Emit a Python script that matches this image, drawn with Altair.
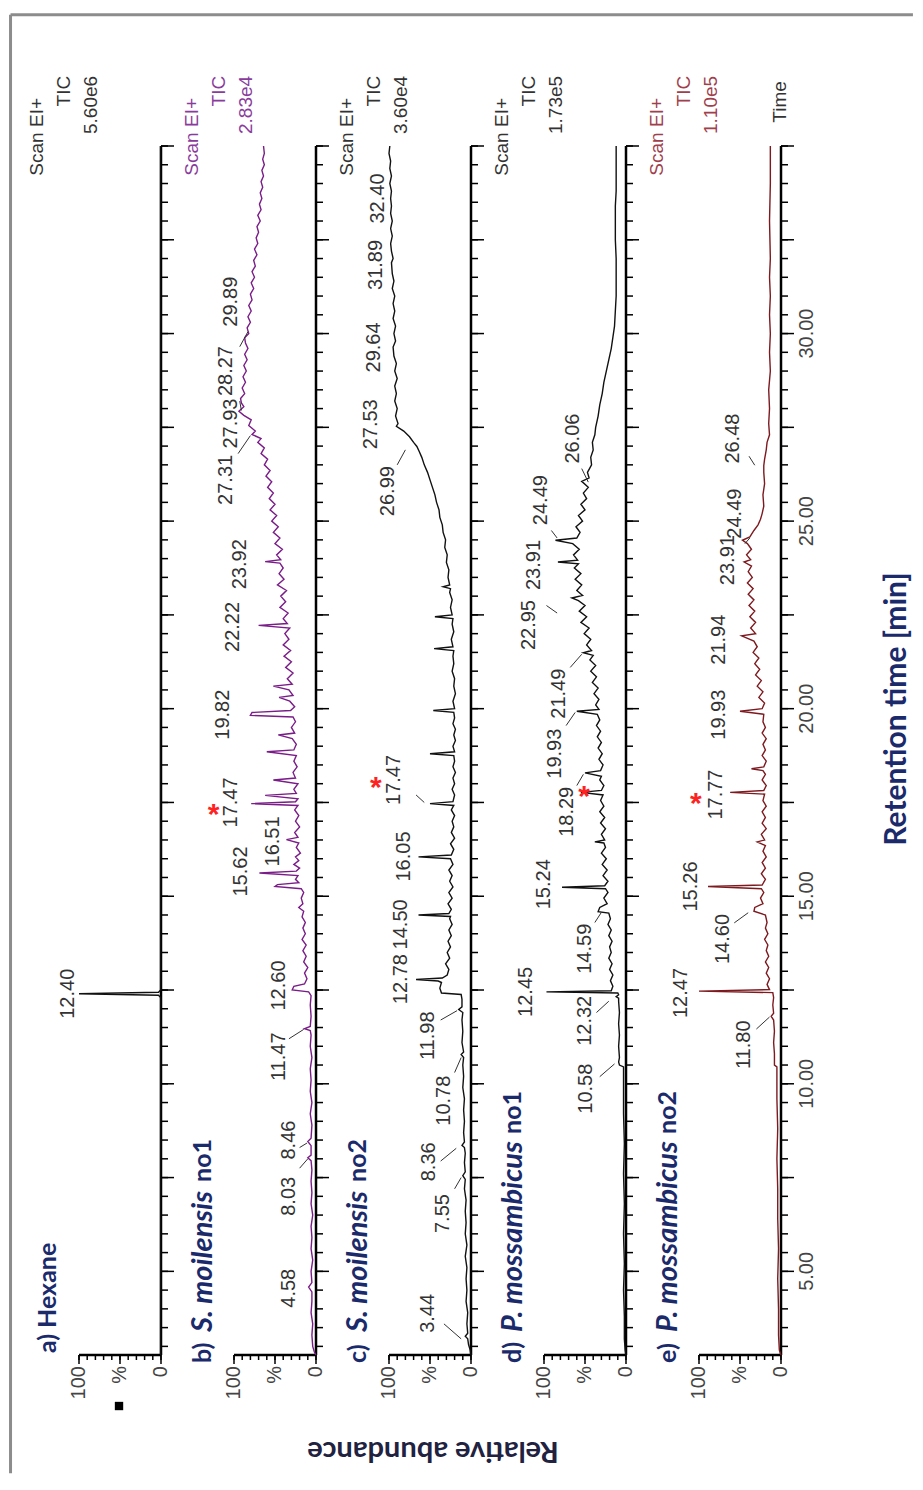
import altair as alt
import pandas as pd

# ---------------- axis ranges / ticks ----------------
T_MIN, T_MAX = 2.77, 35.0
PANEL_W, PANEL_H = 82, 1209
GAP = 73
TIME_TICKS = [v / 2 for v in range(6, 71)]            # minor ticks every 0.5 min
MAJOR_TIME_TICKS = [v / 2 for v in range(10, 71, 5)]  # long ticks every 2.5 min
TIME_LABEL_VALUES = [5, 10, 15, 20, 25, 30]
TIME_LABELS = ["5.00", "10.00", "15.00", "20.00", "25.00", "30.00"]
PCT_TICKS = [0, 10, 20, 30, 40, 50, 60, 70, 80, 90, 100]
MAJOR_PCT_TICKS = [0, 50, 100]
PCT_LABEL_VALUES = [100, 50, 0]
PCT_LABELS = ["100", "%", "0"]

# ---------------- traces (time [min], relative abundance [%]) ----------------
A_TRACE = [(2.77, 0.5), (12.30, 0.5), (12.36, 3), (12.40, 100), (12.44, 3), (12.50, 0.5), (35.0, 0.5)]

B_TRACE = [
    (2.77, 0), (2.85, 2), (3.0, 4), (3.3, 5), (3.6, 4), (3.9, 6), (4.2, 5), (4.45, 5), (4.58, 9), (4.7, 5),
    (5.0, 6), (5.3, 4), (5.6, 6), (5.9, 5), (6.2, 6), (6.5, 4), (6.8, 6), (7.1, 5), (7.4, 6), (7.7, 5),
    (7.95, 6), (8.03, 10), (8.1, 6), (8.35, 6), (8.46, 10), (8.55, 6), (8.9, 5), (9.2, 7), (9.5, 5), (9.8, 7),
    (10.1, 6), (10.4, 7), (10.7, 5), (11.0, 7), (11.3, 6), (11.42, 7), (11.47, 14), (11.53, 7), (11.8, 6),
    (12.1, 7), (12.35, 6), (12.45, 9), (12.5, 29), (12.6, 27), (12.66, 14), (12.8, 11), (12.95, 14), (13.1, 10),
    (13.25, 15), (13.4, 12), (13.55, 16), (13.7, 12), (13.85, 17), (14.0, 13), (14.15, 16), (14.3, 13),
    (14.45, 17), (14.6, 15), (14.7, 21), (14.8, 16), (14.95, 18), (15.1, 15), (15.2, 18), (15.26, 50),
    (15.31, 47), (15.36, 21), (15.45, 25), (15.55, 22), (15.62, 69), (15.67, 24), (15.75, 20), (15.85, 27),
    (15.95, 21), (16.05, 25), (16.15, 19), (16.3, 24), (16.42, 21), (16.51, 36), (16.57, 22), (16.7, 26),
    (16.85, 20), (17.0, 25), (17.15, 21), (17.3, 26), (17.42, 22), (17.47, 79), (17.52, 25), (17.6, 22),
    (17.69, 62), (17.74, 24), (17.85, 27), (18.0, 22), (18.1, 52), (18.15, 25), (18.3, 28), (18.45, 23),
    (18.6, 27), (18.75, 24), (18.85, 60), (18.9, 27), (19.05, 24), (19.2, 29), (19.3, 46), (19.35, 26),
    (19.5, 30), (19.65, 25), (19.78, 28), (19.82, 80), (19.9, 78), (19.95, 31), (20.05, 26), (20.2, 32),
    (20.3, 45), (20.35, 28), (20.5, 33), (20.6, 52), (20.65, 29), (20.8, 35), (20.95, 28), (21.1, 37),
    (21.25, 30), (21.4, 39), (21.55, 31), (21.7, 40), (21.85, 33), (22.0, 38), (22.15, 32), (22.22, 70),
    (22.27, 35), (22.4, 40), (22.55, 34), (22.7, 44), (22.85, 37), (23.0, 43), (23.15, 36), (23.3, 47),
    (23.45, 39), (23.6, 45), (23.75, 40), (23.88, 44), (23.92, 62), (23.97, 43), (24.1, 48), (24.25, 41),
    (24.4, 50), (24.55, 44), (24.7, 52), (24.85, 46), (25.0, 54), (25.15, 48), (25.3, 56), (25.45, 50),
    (25.6, 57), (25.75, 52), (25.9, 59), (26.05, 54), (26.2, 61), (26.35, 56), (26.5, 63), (26.65, 59),
    (26.8, 67), (26.95, 63), (27.1, 71), (27.2, 67), (27.31, 78), (27.4, 74), (27.55, 82), (27.7, 79),
    (27.82, 88), (27.93, 94), (28.05, 88), (28.15, 91), (28.27, 92), (28.4, 87), (28.55, 90), (28.7, 86),
    (28.85, 89), (29.0, 85), (29.15, 88), (29.3, 84), (29.45, 87), (29.6, 83), (29.75, 86), (29.89, 87),
    (30.0, 82), (30.15, 84), (30.3, 80), (30.45, 83), (30.6, 79), (30.75, 82), (30.9, 78), (31.05, 80),
    (31.2, 76), (31.35, 79), (31.5, 75), (31.65, 78), (31.8, 74), (31.95, 76), (32.1, 72), (32.25, 75),
    (32.4, 71), (32.55, 73), (32.7, 70), (32.85, 72), (33.0, 68), (33.15, 71), (33.3, 67), (33.45, 69),
    (33.6, 66), (33.75, 68), (33.9, 65), (34.05, 67), (34.2, 64), (34.35, 66), (34.5, 63), (34.65, 65),
    (34.8, 63), (35.0, 64),
]

C_TRACE = [
    (2.77, 0), (2.9, 1), (3.05, 3), (3.2, 4), (3.27, 7), (3.35, 4), (3.6, 5), (3.9, 4), (4.2, 6), (4.5, 5),
    (4.8, 6), (5.1, 5), (5.4, 7), (5.7, 5), (6.0, 7), (6.3, 6), (6.6, 7), (6.9, 6), (7.2, 8), (7.45, 7),
    (7.55, 10), (7.65, 7), (7.9, 8), (8.15, 7), (8.3, 8), (8.36, 11), (8.45, 8), (8.7, 9), (9.0, 8), (9.3, 9),
    (9.6, 8), (9.9, 10), (10.2, 9), (10.5, 10), (10.7, 9), (10.78, 12), (10.85, 9), (11.1, 11), (11.4, 10),
    (11.7, 11), (11.9, 10), (11.98, 15), (12.05, 11), (12.25, 11), (12.38, 12), (12.42, 36), (12.55, 38),
    (12.7, 36), (12.74, 40), (12.78, 67), (12.82, 35), (12.9, 29), (13.05, 27), (13.2, 31), (13.35, 26),
    (13.5, 29), (13.65, 25), (13.8, 28), (13.95, 24), (14.1, 27), (14.25, 23), (14.4, 26), (14.46, 25),
    (14.5, 64), (14.54, 27), (14.65, 24), (14.8, 28), (14.95, 23), (15.1, 27), (15.25, 22), (15.4, 26),
    (15.55, 23), (15.7, 27), (15.85, 22), (16.0, 25), (16.05, 64), (16.1, 24), (16.25, 21), (16.4, 25),
    (16.55, 20), (16.7, 24), (16.85, 21), (17.0, 23), (17.15, 20), (17.3, 24), (17.42, 21), (17.47, 50),
    (17.52, 22), (17.7, 20), (17.85, 23), (18.0, 20), (18.15, 22), (18.3, 19), (18.45, 22), (18.6, 20),
    (18.75, 21), (18.8, 50), (18.85, 20), (19.0, 22), (19.15, 19), (19.3, 21), (19.45, 19), (19.6, 22),
    (19.75, 20), (19.9, 21), (19.95, 46), (20.0, 20), (20.2, 22), (20.4, 19), (20.6, 21), (20.8, 20),
    (21.0, 23), (21.2, 21), (21.4, 22), (21.55, 21), (21.6, 45), (21.65, 22), (21.85, 24), (22.05, 21),
    (22.25, 23), (22.4, 22), (22.45, 44), (22.5, 23), (22.7, 25), (22.9, 23), (23.1, 26), (23.2, 25),
    (23.25, 34), (23.3, 26), (23.5, 28), (23.7, 27), (23.9, 30), (24.1, 29), (24.3, 32), (24.5, 31),
    (24.7, 34), (24.9, 35), (25.1, 38), (25.3, 39), (25.5, 42), (25.7, 44), (25.9, 47), (26.1, 50),
    (26.3, 53), (26.5, 57), (26.7, 60), (26.85, 63), (26.99, 66), (27.1, 70), (27.25, 75), (27.4, 82),
    (27.53, 91), (27.6, 89), (27.8, 92), (28.0, 90), (28.2, 93), (28.4, 91), (28.6, 93), (28.8, 90),
    (29.0, 93), (29.2, 91), (29.4, 94), (29.64, 95), (29.8, 92), (30.0, 94), (30.2, 92), (30.4, 95),
    (30.6, 93), (30.8, 95), (31.0, 93), (31.2, 96), (31.4, 94), (31.6, 96), (31.89, 97), (32.0, 95),
    (32.2, 97), (32.4, 98), (32.6, 96), (32.8, 98), (33.0, 96), (33.2, 98), (33.4, 97), (33.6, 98),
    (33.8, 97), (34.0, 99), (34.2, 97), (34.4, 99), (34.6, 98), (34.8, 100), (35.0, 99),
]

D_TRACE = [
    (2.77, 0), (2.9, 1), (3.2, 2), (3.8, 2), (4.5, 3), (5.2, 2), (6.0, 3), (6.8, 2), (7.6, 3), (8.4, 2),
    (9.2, 3), (10.0, 3), (10.45, 3), (10.5, 8), (10.58, 9), (10.7, 8), (11.0, 9), (11.3, 8), (11.6, 9),
    (11.9, 8), (12.2, 9), (12.28, 9), (12.32, 12), (12.37, 9), (12.42, 10), (12.45, 97), (12.48, 18),
    (12.6, 16), (12.75, 19), (12.9, 16), (13.05, 20), (13.2, 17), (13.35, 21), (13.5, 18), (13.65, 20),
    (13.8, 17), (13.95, 21), (14.1, 18), (14.25, 22), (14.4, 19), (14.55, 21), (14.59, 34), (14.7, 32),
    (14.8, 23), (14.95, 27), (15.1, 22), (15.2, 25), (15.24, 78), (15.28, 26), (15.4, 22), (15.55, 28),
    (15.7, 23), (15.85, 29), (16.0, 24), (16.15, 30), (16.3, 25), (16.42, 27), (16.45, 38), (16.5, 26),
    (16.65, 30), (16.8, 25), (16.95, 31), (17.1, 26), (17.25, 32), (17.4, 27), (17.55, 31), (17.7, 28),
    (17.77, 55), (17.82, 30), (17.95, 27), (18.1, 32), (18.2, 30), (18.29, 50), (18.35, 31), (18.5, 28),
    (18.65, 33), (18.8, 29), (18.95, 34), (19.1, 30), (19.25, 35), (19.4, 31), (19.55, 36), (19.7, 32),
    (19.85, 35), (19.93, 60), (19.98, 33), (20.1, 37), (20.25, 33), (20.4, 39), (20.55, 34), (20.7, 41),
    (20.85, 36), (21.0, 43), (21.15, 37), (21.3, 44), (21.42, 40), (21.49, 52), (21.55, 42), (21.7, 48),
    (21.85, 43), (22.0, 51), (22.15, 45), (22.3, 55), (22.45, 48), (22.6, 57), (22.75, 50), (22.88, 58),
    (22.95, 66), (23.02, 53), (23.15, 60), (23.3, 54), (23.45, 62), (23.6, 55), (23.75, 63), (23.86, 58),
    (23.91, 83), (23.96, 59), (24.1, 64), (24.25, 57), (24.4, 65), (24.49, 86), (24.55, 60), (24.7, 56),
    (24.85, 61), (25.0, 53), (25.15, 58), (25.3, 50), (25.45, 55), (25.6, 48), (25.75, 52), (25.9, 46),
    (26.06, 54), (26.15, 45), (26.3, 47), (26.5, 42), (26.7, 43), (26.9, 40), (27.1, 41), (27.3, 38),
    (27.5, 37), (27.8, 34), (28.1, 32), (28.4, 29), (28.7, 27), (29.0, 24), (29.3, 21), (29.6, 18),
    (29.9, 16), (30.2, 14), (30.6, 13), (31.0, 12), (31.5, 12), (32.0, 12), (32.5, 13), (33.0, 13),
    (33.4, 13), (33.8, 12), (34.4, 12), (35.0, 12),
]

E_TRACE = [
    (2.77, 0), (2.9, 2), (3.3, 3), (4.0, 3), (4.8, 4), (5.6, 3), (6.4, 4), (7.2, 4), (8.0, 5), (8.8, 4),
    (9.6, 5), (10.2, 5), (10.45, 5), (10.5, 8), (10.8, 8), (11.1, 9), (11.4, 8), (11.7, 9), (11.8, 12),
    (11.88, 9), (12.1, 10), (12.3, 9), (12.43, 10), (12.47, 100), (12.51, 14), (12.65, 17), (12.8, 14),
    (12.95, 18), (13.1, 15), (13.25, 19), (13.4, 15), (13.55, 18), (13.7, 16), (13.85, 20), (14.0, 16),
    (14.15, 19), (14.3, 17), (14.5, 19), (14.6, 33), (14.7, 32), (14.8, 22), (14.95, 25), (15.1, 21),
    (15.2, 24), (15.26, 89), (15.3, 23), (15.45, 19), (15.6, 24), (15.75, 19), (15.9, 23), (16.05, 18),
    (16.2, 22), (16.35, 19), (16.45, 29), (16.5, 20), (16.65, 24), (16.8, 18), (16.95, 23), (17.1, 19),
    (17.25, 23), (17.4, 18), (17.55, 22), (17.72, 20), (17.77, 62), (17.82, 21), (17.95, 18), (18.1, 23),
    (18.25, 19), (18.35, 22), (18.4, 36), (18.45, 21), (18.6, 18), (18.75, 23), (18.9, 19), (19.05, 22),
    (19.2, 18), (19.35, 23), (19.5, 19), (19.65, 22), (19.85, 21), (19.93, 50), (20.0, 23), (20.15, 20),
    (20.3, 27), (20.45, 22), (20.6, 29), (20.75, 24), (20.9, 31), (21.05, 26), (21.2, 32), (21.35, 27),
    (21.5, 34), (21.65, 29), (21.8, 33), (21.94, 48), (22.0, 31), (22.15, 37), (22.3, 31), (22.45, 38),
    (22.6, 32), (22.75, 39), (22.9, 33), (23.05, 40), (23.2, 34), (23.35, 41), (23.5, 35), (23.65, 40),
    (23.8, 36), (23.91, 45), (23.97, 37), (24.1, 42), (24.25, 36), (24.4, 41), (24.49, 47), (24.58, 38),
    (24.75, 33), (24.9, 28), (25.05, 25), (25.2, 23), (25.4, 21), (25.7, 22), (26.0, 20), (26.3, 21),
    (26.48, 21), (26.65, 20), (26.9, 18), (27.1, 17), (27.3, 14), (27.6, 15), (28.0, 14), (28.5, 15),
    (29.0, 13), (29.5, 14), (30.0, 13), (30.5, 14), (31.0, 13), (31.5, 14), (32.0, 13), (33.0, 14),
    (34.0, 13), (35.0, 13),
]

# ---------------- peak labels: (text, label-centre time, label edge %) ----------------
A_LABELS = [("12.40", 12.40, 101)]
B_LABELS = [("4.58", 4.55, 21), ("8.03", 7.0, 21), ("8.46", 8.5, 21), ("11.47", 10.72, 33),
            ("12.60", 12.62, 33), ("15.62", 15.66, 79), ("16.51", 16.46, 40), ("17.47", 17.5, 91),
            ("19.82", 19.84, 101), ("22.22", 22.18, 89), ("23.92", 23.85, 81), ("27.31", 26.1, 97),
            ("27.93", 27.6, 91), ("28.27", 29.0, 97), ("29.89", 30.85, 91)]
C_LABELS = [("3.44", 3.88, 40), ("7.55", 6.54, 22), ("8.36", 7.92, 39), ("10.78", 9.55, 21),
            ("11.98", 11.28, 40), ("12.78", 12.79, 73), ("14.50", 14.25, 73), ("16.05", 16.06, 70),
            ("17.47", 18.1, 82), ("26.99", 25.8, 89), ("27.53", 27.58, 110), ("29.64", 29.63, 106),
            ("31.89", 31.83, 104), ("32.40", 33.6, 101)]
D_LABELS = [("10.58", 9.87, 36), ("12.32", 11.68, 38), ("12.45", 12.45, 110), ("14.59", 13.6, 38),
            ("15.24", 15.32, 88), ("18.29", 17.25, 60), ("19.93", 18.8, 75), ("21.49", 20.4, 70),
            ("22.95", 22.23, 106), ("23.91", 23.83, 100), ("24.49", 25.56, 91), ("26.06", 27.2, 52)]
E_LABELS = [("11.80", 11.04, 33), ("12.47", 12.42, 110), ("14.60", 13.86, 58), ("15.26", 15.26, 98),
            ("17.77", 17.71, 67), ("19.93", 19.84, 64), ("21.94", 21.84, 63), ("23.91", 23.96, 52),
            ("24.49", 25.2, 44), ("26.48", 27.2, 46)]

# ---------------- leader lines: (t1, %1, t2, %2) ----------------
A_LEADS = []
B_LEADS = [(7.75, 20, 8.0, 10), (8.3, 20, 8.42, 11), (11.2, 33, 11.45, 15), (26.8, 95, 27.28, 80),
           (27.95, 91, 28.2, 93), (29.65, 93, 30.05, 83)]
C_LEADS = [(3.6, 33, 3.2, 12), (7.2, 20, 7.5, 12), (7.94, 37, 8.28, 18), (10.3, 20, 10.7, 12),
           (11.7, 37, 11.95, 17), (17.7, 67, 17.5, 57), (26.5, 90, 26.9, 80)]
D_LEADS = [(10.19, 32, 10.53, 14), (11.9, 36, 12.2, 21), (14.3, 38, 14.57, 30), (17.95, 60, 18.25, 52),
           (19.55, 73, 19.9, 62), (21.1, 68, 21.45, 54), (22.75, 97, 22.55, 84), (24.75, 91, 24.55, 84),
           (26.4, 54, 26.04, 46)]
E_LEADS = [(11.46, 30, 11.78, 14), (14.29, 57, 14.56, 40), (24.4, 44, 24.55, 38), (26.73, 39, 26.49, 32)]

# ---------------- headers / titles ----------------
HEADER_VALUES = ["5.60e6", "2.83e4", "3.60e4", "1.73e5", "1.10e5"]
HEADER_COLORS = ["#333333", "#8a3c9c", "#333333", "#333333", "#a0404c"]
TRACE_COLORS = ["#111111", "#7a1d88", "#111111", "#111111", "#7d1a1f"]
TITLE_PARTS = [
    [("a) Hexane", "normal", 0)],
    [("b)", "normal", 0), ("S. moilensis", "italic", 31), ("no1", "normal", 181)],
    [("c)", "normal", 0), ("S. moilensis", "italic", 31), ("no2", "normal", 181)],
    [("d)", "normal", 0), ("P. mossambicus", "italic", 31), ("no1", "normal", 229)],
    [("e)", "normal", 0), ("P. mossambicus", "italic", 31), ("no2", "normal", 229)],
]
TITLE_T = [2.82, 2.56, 2.56, 2.56, 2.56]
STARS = [None, (17.37, 125), (18.1, 116), (17.85, 51), (17.66, 104)]

NAVY = "#1b2a6b"
NUM_FONT = "Liberation Sans"
TITLE_FONT = "Lato"
PX_PER_PCT = PANEL_W / 100.0
PX_PER_MIN = PANEL_H / (T_MAX - T_MIN)

xs = alt.Scale(domain=[0, 100], reverse=True, nice=False, zero=False)
ys = alt.Scale(domain=[T_MIN, T_MAX], nice=False, zero=False)


def X(field):
    return alt.X(field, type="quantitative", scale=xs, axis=None)


def Y(field):
    return alt.Y(field, type="quantitative", scale=ys, axis=None)


def text_layer(rows, **kw):
    df = pd.DataFrame(rows, columns=["s", "x", "y"])
    return alt.Chart(df).mark_text(**kw).encode(x=X("x"), y=Y("y"), text="s:N")


def rule_layer(rows, **kw):
    df = pd.DataFrame(rows, columns=["i1", "i2", "t1", "t2"])
    return alt.Chart(df).mark_rule(**kw).encode(x=X("i1"), x2="i2", y=Y("t1"), y2="t2")


def axes_layers(show_time_labels):
    """Time axis on the right (at 0 %) and % axis at the bottom, drawn through the scales."""
    minor_t = 7 / PX_PER_PCT
    major_t = 13 / PX_PER_PCT
    minor_p = 5 / PX_PER_MIN
    major_p = 9 / PX_PER_MIN
    out = [
        rule_layer([(0, 0, T_MIN, T_MAX), (0, 100, T_MIN, T_MIN)], color="#000", strokeWidth=2.5),
        rule_layer([(0, -minor_t, t, t) for t in TIME_TICKS], color="#000", strokeWidth=1.5),
        rule_layer([(0, -major_t, t, t) for t in MAJOR_TIME_TICKS], color="#000", strokeWidth=1.5),
        rule_layer([(p, p, T_MIN, T_MIN - minor_p) for p in PCT_TICKS], color="#000", strokeWidth=1.5),
        rule_layer([(p, p, T_MIN, T_MIN - major_p) for p in MAJOR_PCT_TICKS], color="#000", strokeWidth=1.5),
        text_layer([(s, v, T_MIN - 11 / PX_PER_MIN) for s, v in zip(PCT_LABELS, PCT_LABEL_VALUES)],
                   angle=270, align="right", baseline="middle", font=NUM_FONT, fontSize=20, color="#444"),
    ]
    if show_time_labels:
        out.append(text_layer([(s, -19.5, v) for s, v in zip(TIME_LABELS, TIME_LABEL_VALUES)],
                              angle=270, align="center", baseline="top", font=NUM_FONT, fontSize=20,
                              color="#444"))
    return out


def panel(i, trace, labels, leads, show_time_labels):
    df = pd.DataFrame(trace, columns=["t", "I"])
    df["idx"] = range(len(df))

    layers = axes_layers(show_time_labels)
    layers.append(alt.Chart(df).mark_line(color=TRACE_COLORS[i], strokeWidth=1.4).encode(
        x=X("I"), y=Y("t"), order="idx:Q"))

    if leads:
        layers.append(rule_layer([(a, b, c, d) for (c, a, d, b) in leads], color="#333", strokeWidth=1))

    layers.append(text_layer([(s, li, lt) for (s, lt, li) in labels], angle=270, align="center",
                             baseline="bottom", font=NUM_FONT, fontSize=20, color="#333"))

    # header block  (Scan EI+ / TIC / scale value)
    hc = HEADER_COLORS[i]
    layers.append(text_layer([("Scan EI+", 151.2, 36.28)], angle=270, align="right", baseline="middle",
                             font=NUM_FONT, fontSize=19, color=hc))
    layers.append(text_layer([("TIC", 118.3, 36.87), (HEADER_VALUES[i], 85.4, 36.87)], angle=270,
                             align="right", baseline="middle", font=NUM_FONT, fontSize=19, color=hc))

    # panel title
    for (s, style, dx) in TITLE_PARTS[i]:
        layers.append(text_layer([(s, 137.8, TITLE_T[i])], angle=270, align="left", baseline="middle",
                                 dx=dx, font=TITLE_FONT, fontSize=29 if style == "italic" else 25,
                                 fontWeight="bold", fontStyle=style, color=NAVY))

    if STARS[i] is not None:
        st, si = STARS[i]
        layers.append(text_layer([("*", si, st)], align="center", baseline="alphabetic", dy=17,
                                 font=NUM_FONT, fontSize=30, fontWeight="bold", color="#ff2222"))
    return layers


pa = panel(0, A_TRACE, A_LABELS, A_LEADS, False)
pb = panel(1, B_TRACE, B_LABELS, B_LEADS, False)
pc = panel(2, C_TRACE, C_LABELS, C_LEADS, False)
pd_ = panel(3, D_TRACE, D_LABELS, D_LEADS, False)
pe = panel(4, E_TRACE, E_LABELS, E_LEADS, True)

# frame (grey border) and small marker in panel a
pa.append(rule_layer([(183.5, 183.5, 38.5, -0.38), (183.5, -917, 38.5, 38.5)], color="#8c8c8c", strokeWidth=3))
sq = pd.DataFrame({"x": [51.2], "y": [1.41]})
pa.append(alt.Chart(sq).mark_square(size=70, color="#000", opacity=1).encode(x=X("x"), y=Y("y")))

# axis caption texts
pc.append(text_layer([("Relative abundance", 46.3, 0.2)], angle=180, align="center", baseline="middle",
                     font=TITLE_FONT, fontSize=29, fontWeight="bold", color="#1f2240"))
pe.append(text_layer([("Retention time [min]", -141.5, 19.99)], angle=270, align="center",
                     baseline="middle", font=TITLE_FONT, fontSize=30, fontWeight="bold", color=NAVY))
pe.append(text_layer([("Time", 1, 36.73)], angle=270, align="right", baseline="middle",
                     font=NUM_FONT, fontSize=19, color="#333"))

panels = [alt.layer(*p).properties(width=PANEL_W, height=PANEL_H) for p in (pa, pb, pc, pd_, pe)]

chart = alt.hconcat(*panels, spacing=GAP, bounds="flush").properties(
    padding={"left": 0, "top": 4, "right": 0, "bottom": 0}, background="white"
).configure_view(stroke="transparent")

chart.save("out.html", embed_options={"renderer": "svg", "actions": False})
